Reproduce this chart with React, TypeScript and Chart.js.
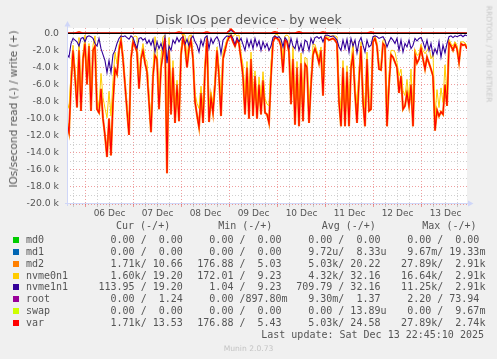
import React, { useEffect, useRef } from 'react';
import { Chart, registerables } from 'chart.js';

Chart.register(...registerables);

// ---------- time axis (hours since Fri 05 Dec 14:45, 1800 s per pixel) ----------
const HOURS_SHOWN = 200;
const FIRST_MIDNIGHT = 9.25; // 06 Dec 00:00
const dayLabels = ['06 Dec', '07 Dec', '08 Dec', '09 Dec', '10 Dec', '11 Dec', '12 Dec', '13 Dec'];

// ---------- value axis ----------
const Y_MIN = -20000;
const Y_MAX = 620;
const Y_MINOR_STEP = 1000;
const Y_LABEL_STEP = 2000;

// ---------- read rates, thousands of IOs/s, one value per hour ----------
const varRead = [
  10.5, 11.6, 6, 2, 5, 8.7, 2, 9.1, 3, 1.2,
  6, 1.5, 9.1, 2, 1.5, 8.9, 9.3, 6.5, 10, 12,
  14.5, 10, 14.3, 8, 4.2, 4.8, 2, 0.8, 3, 6,
  9, 11.9, 3, 1, 1.5, 2.2, 6.5, 3, 2, 3.5,
  4.5, 8, 11.6, 5, 2.6, 3, 8.9, 4, 2.4, 0.6,
  16.4, 2, 9.5, 4, 10.5, 6, 10.3, 2.5, 0.5, 1.5,
  4, 1.8, 0.8, 3, 8, 9.6, 11, 7, 10.5, 4.2,
  0.6, 10.4, 7.5, 9.3, 6, 2, 5, 9.7, 3, 2,
  1, 0.5, 0.3, 1, 1.5, 0.8, 1.2, 3, 5, 9.5,
  4, 10, 3, 9.7, 5, 10, 6, 9.5, 5.5, 9.3,
  9.5, 10.5, 5, 1, 0.5, 0.6, 0.8, 1.5, 4.6, 0.8,
  1.0, 2.2, 8.3, 3, 10.7, 4, 10.9, 3.5, 10.3, 3.6,
  4, 10.5, 6, 2.5, 1.8, 2.5, 3.5, 2, 7.3, 0.5,
  0.6, 0.8, 0.7, 0.6, 0.8, 1.2, 8, 10.9, 4, 10.9,
  4.5, 10.9, 4, 2.5, 7, 10.5, 5.5, 1.5, 8, 10.9,
  3, 9.1, 8.9, 1, 0.6, 1.5, 4.2, 4.3, 1.2, 1.5,
  10.9, 6, 2.5, 2.8, 3.4, 4, 7, 5, 8.9, 8.5,
  7, 8.5, 6, 10.9, 2.5, 3.5, 3, 1.8, 3, 4.2,
  2.8, 3.5, 4.2, 5, 11.4, 9, 9.7, 9.2, 9.5, 6,
  8.5, 1.1, 1.5, 2, 1.3, 1.8, 3.4, 1.2, 1.4, 1.3,
  1.8,
];
// md2 reads are identical to var in the legend (cur 1.71k, min 176.88, avg 5.03k, max 27.89k)
const md2Read = varRead;

const nvme0n1Read = [
  8.0, 8.8, 4.8, 1.4, 4.2, 7.7, 0.5, 8.5, 2.5, 0.2,
  5.6, 1.2, 8.7, 1.4, 0.3, 7.4, 8.7, 4.7, 7.5, 8.8,
  9.9, 6.8, 9.7, 5.5, 2.2, 3.6, 1.4, 0.5, 2.6, 5.7,
  8.5, 11.2, 2.7, 0.5, 0.3, 0.4, 5.9, 2.5, 1.2, 2.9,
  3.3, 7.2, 10.2, 4.3, 0.4, 2.0, 7.1, 2.8, 0.4, 0.2,
  12.9, 0.5, 7.5, 3.2, 9.3, 5.5, 9.3, 1.9, 0.1, 0.2,
  3.3, 0.3, 0.2, 2.7, 7.0, 8.2, 8.8, 6.2, 9.0, 3.7,
  0.3, 8.6, 6.9, 8.1, 5.3, 1.6, 4.1, 7.3, 2.2, 1.5,
  0.7, 0.1, 0.1, 0.4, 0.1, 0.3, 0.2, 2.4, 3.7, 7.5,
  3.3, 8.4, 2.2, 7.9, 4.4, 8.5, 5.1, 7.5, 4.5, 7.6,
  8.3, 8.5, 3.5, 0.5, 0.2, 0.1, 0.4, 0.8, 3.0, 0.3,
  0.2, 0.4, 7.7, 1.5, 8.9, 3.3, 8.9, 2.3, 8.1, 2.8,
  3.0, 8.5, 5.4, 1.3, 1.3, 2.1, 2.9, 1.6, 6.3, 0.2,
  0.4, 0.5, 0.3, 0.3, 0.3, 0.4, 6.4, 8.9, 3.2, 9.1,
  3.8, 8.7, 3.4, 1.0, 6.2, 8.2, 4.5, 1.0, 6.6, 8.7,
  2.2, 7.5, 7.5, 0.6, 0.3, 1.1, 3.6, 3.8, 0.8, 0.7,
  9.3, 5.0, 2.0, 2.0, 2.2, 3.4, 5.0, 4.2, 6.7, 7.3,
  5.4, 7.7, 4.2, 9.5, 1.9, 2.6, 2.4, 1.3, 2.0, 2.4,
  2.0, 1.5, 3.0, 2.4, 9.6, 6.6, 8.7, 6.4, 8.1, 3.7,
  7.3, 0.7, 1.2, 1.5, 1.0, 1.4, 3.1, 1.0, 1.0, 1.1,
  1.5,
];

const nvme1n1Read = [
  2.5, 2.8, 1.2, 0.6, 0.8, 1.0, 1.5, 0.6, 0.5, 1.0,
  0.4, 0.3, 0.4, 0.6, 1.2, 1.5, 0.6, 1.8, 2.5, 3.2,
  4.6, 3.2, 4.6, 2.5, 2.0, 1.2, 0.6, 0.3, 0.4, 0.3,
  0.5, 0.7, 0.3, 0.5, 1.2, 1.8, 0.6, 0.5, 0.8, 0.6,
  1.2, 0.8, 1.4, 0.7, 2.2, 1.0, 1.8, 1.2, 2.0, 0.4,
  3.5, 1.5, 2.0, 0.8, 1.2, 0.5, 1.0, 0.6, 0.4, 1.3,
  0.7, 1.5, 0.6, 0.3, 1.0, 1.4, 2.2, 0.8, 1.5, 0.5,
  0.3, 1.8, 0.6, 1.2, 0.7, 0.4, 0.9, 2.4, 0.8, 0.5,
  0.3, 0.4, 0.2, 0.6, 1.4, 0.5, 1.0, 0.6, 1.3, 2.0,
  0.7, 1.6, 0.8, 1.8, 0.6, 1.5, 0.9, 2.0, 1.0, 1.7,
  1.2, 2.0, 1.5, 0.5, 0.3, 0.5, 0.4, 0.7, 1.6, 0.5,
  0.8, 1.8, 0.6, 1.5, 1.8, 0.7, 2.0, 1.2, 2.2, 0.8,
  1.0, 2.0, 0.6, 1.2, 0.5, 0.4, 0.6, 0.4, 1.0, 0.3,
  0.2, 0.3, 0.4, 0.3, 0.5, 0.8, 1.6, 2.0, 0.8, 1.8,
  0.7, 2.2, 0.6, 1.5, 0.8, 2.3, 1.0, 0.5, 1.4, 2.2,
  0.8, 1.6, 1.4, 0.4, 0.3, 0.4, 0.6, 0.5, 0.4, 0.8,
  1.6, 1.0, 0.5, 0.8, 1.2, 0.6, 2.0, 0.8, 2.2, 1.2,
  1.6, 0.8, 1.8, 1.4, 0.6, 0.9, 0.6, 0.5, 1.0, 1.8,
  0.8, 2.0, 1.2, 2.6, 1.8, 2.4, 1.0, 2.8, 1.4, 2.3,
  1.2, 0.4, 0.3, 0.5, 0.3, 0.4, 0.3, 0.2, 0.4, 0.2,
  0.3,
];

// ---------- write rates, thousands of IOs/s, one value per 2 hours ----------
const varWrite = [
  0.02, 0.03, 0.05, 0.15, 0.03, 0.02, 0.02, 0.03, 0.02, 0.02,
  0.03, 0.02, 0.02, 0.03, 0.02, 0.02, 0.03, 0.02, 0.02, 0.03,
  0.02, 0.02, 0.03, 0.02, 0.02, 0.03, 0.02, 0.04, 0.15, 0.03,
  0.02, 0.02, 0.03, 0.02, 0.04, 0.15, 0.03, 0.02, 0.03, 0.02,
  0.06, 0.5, 0.05, 0.02, 0.03, 0.02, 0.02, 0.03, 0.02, 0.02,
  0.03, 0.04, 0.17, 0.03, 0.02, 0.02, 0.03, 0.04, 0.17, 0.03,
  0.02, 0.02, 0.03, 0.04, 0.15, 0.03, 0.02, 0.02, 0.03, 0.02,
  0.02, 0.03, 0.02, 0.02, 0.03, 0.04, 0.15, 0.03, 0.02, 0.02,
  0.03, 0.02, 0.02, 0.03, 0.02, 0.02, 0.03, 0.02, 0.02, 0.03,
  0.02, 0.02, 0.03, 0.02, 0.02, 0.03, 0.02, 0.02, 0.03, 0.02,
  0.02,
];
const md2Write = varWrite;
const nvmeWrite = [
  0.03, 0.03, 0.04, 0.05, 0.03, 0.03, 0.03, 0.04, 0.03, 0.03,
  0.04, 0.03, 0.03, 0.04, 0.03, 0.03, 0.04, 0.03, 0.03, 0.04,
  0.03, 0.03, 0.04, 0.03, 0.03, 0.04, 0.03, 0.04, 0.05, 0.04,
  0.03, 0.03, 0.04, 0.03, 0.04, 0.05, 0.04, 0.03, 0.04, 0.03,
  0.06, 0.35, 0.05, 0.03, 0.04, 0.03, 0.03, 0.04, 0.03, 0.03,
  0.04, 0.04, 0.06, 0.04, 0.03, 0.03, 0.04, 0.04, 0.06, 0.04,
  0.03, 0.03, 0.04, 0.04, 0.05, 0.04, 0.03, 0.03, 0.04, 0.03,
  0.03, 0.04, 0.03, 0.03, 0.04, 0.04, 0.05, 0.04, 0.03, 0.03,
  0.04, 0.03, 0.03, 0.04, 0.03, 0.03, 0.04, 0.03, 0.03, 0.04,
  0.03, 0.03, 0.04, 0.03, 0.03, 0.04, 0.03, 0.03, 0.04, 0.03,
  0.03,
];
// md0, md1, root, swap stay at (practically) zero over the whole week
const flatHours = [0, 200];
const flatValues = [0, 0];

// ---------- legend ----------
const legendNames = ['md0', 'md1', 'md2', 'nvme0n1', 'nvme1n1', 'root', 'swap', 'var'];
const legendColors = ['#00CC00', '#0066B3', '#FF8000', '#FFCC00', '#330099', '#990099', '#CCFF00', '#FF0000'];
const curText = ['  0.00 /  0.00 ', '  0.00 /  0.00 ', '  1.71k/ 10.66 ', '  1.60k/ 19.20 ', '113.95 / 19.20 ', '  0.00 /  1.24 ', '  0.00 /  0.00 ', '  1.71k/ 13.53 '];
const minText = ['  0.00 /  0.00 ', '  0.00 /  0.00 ', '176.88 /  5.03 ', '172.01 /  9.23 ', '  1.04 /  9.23 ', '  0.00 /897.80m', '  0.00 /  0.00 ', '176.88 /  5.43 '];
const avgText = ['  0.00 /  0.00 ', '  9.72u/  8.33u', '  5.03k/ 20.22 ', '  4.32k/ 32.16 ', '709.79 / 32.16 ', '  9.30m/  1.37 ', '  0.00 / 13.89u', '  5.03k/ 24.58 '];
const maxText = ['  0.00 /  0.00 ', '  9.67m/ 19.33m', ' 27.89k/  2.91k', ' 16.64k/  2.91k', ' 11.25k/  2.91k', '  2.20 / 73.94 ', '  0.00 /  9.67m', ' 27.89k/  2.74k'];
const headerText = ['Cur (-/+)', 'Min (-/+)', 'Avg (-/+)', 'Max (-/+)'];
const lastUpdate = 'Last update: Sat Dec 13 22:45:10 2025';

const GRID = 'rgba(150,150,150,0.45)';
const MGRID = 'rgba(225,80,80,0.55)';
const TEXT = '#555555';

const pts = (values: number[], step: number, sign: number) =>
  values.map((v, i) => ({ x: i * step, y: sign * v * 1000 }));
const flatPts = () => flatHours.map((h, i) => ({ x: h, y: flatValues[i] }));

const xTickHours: number[] = [];
for (let t = FIRST_MIDNIGHT - 6; t <= HOURS_SHOWN; t += 6) xTickHours.push(t);
const yTickValues: number[] = [];
for (let v = Y_MIN; v <= 0; v += Y_MINOR_STEP) yTickValues.push(v);

const isMultiple = (v: number, m: number) => Math.abs(v / m - Math.round(v / m)) < 1e-6;
const isMidnight = (t: number) => isMultiple(t - FIRST_MIDNIGHT, 24);
const dayLabelFor = (t: number) => {
  const d = (t - FIRST_MIDNIGHT - 12) / 24;
  const r = Math.round(d);
  if (Math.abs(d - r) < 1e-6 && r >= 0 && r < dayLabels.length) return dayLabels[r];
  return '';
};
const yLabelFor = (v: number) => {
  const n = Math.round(v);
  if (!isMultiple(n, Y_LABEL_STEP)) return '';
  if (n === 0) return '0.0';
  return `${(n / 1000).toFixed(1)} k`;
};

const framePlugin = {
  id: 'frame',
  beforeDraw(chart: any) {
    const { ctx, chartArea: a } = chart;
    ctx.save();
    ctx.fillStyle = '#F0F0F0';
    ctx.fillRect(0, 0, chart.width, chart.height);
    ctx.fillStyle = '#FFFFFF';
    ctx.fillRect(a.left, a.top, a.right - a.left, a.bottom - a.top);
    ctx.restore();
  },
  afterDatasetsDraw(chart: any) {
    const { ctx, chartArea: a, scales } = chart;
    const y0 = Math.round(scales.y.getPixelForValue(0)) + 0.5;
    ctx.save();
    ctx.strokeStyle = '#000000';
    ctx.lineWidth = 1;
    ctx.beginPath();
    ctx.moveTo(a.left, y0);
    ctx.lineTo(a.right, y0);
    ctx.stroke();
    ctx.strokeStyle = '#CFD6F8';
    ctx.fillStyle = '#CFD6F8';
    const yb = a.bottom - 0.5;
    ctx.beginPath();
    ctx.moveTo(a.left + 0.5, a.bottom + 2);
    ctx.lineTo(a.left + 0.5, a.top - 3);
    ctx.stroke();
    ctx.beginPath();
    ctx.moveTo(a.left - 2, yb);
    ctx.lineTo(a.right + 2, yb);
    ctx.stroke();
    ctx.beginPath();
    ctx.moveTo(a.left + 0.5, a.top - 7);
    ctx.lineTo(a.left - 2.5, a.top - 1.5);
    ctx.lineTo(a.left + 3.5, a.top - 1.5);
    ctx.closePath();
    ctx.fill();
    ctx.beginPath();
    ctx.moveTo(a.right + 6.5, yb);
    ctx.lineTo(a.right + 1, yb - 3);
    ctx.lineTo(a.right + 1, yb + 3);
    ctx.closePath();
    ctx.fill();
    ctx.restore();
  },
};

const abs = (extra: React.CSSProperties): React.CSSProperties => ({ position: 'absolute', whiteSpace: 'pre', margin: 0, ...extra });

const MONO = '"DejaVu Sans Mono", monospace';
const SANS = '"DejaVu Sans", sans-serif';
// top of a 12px line box so that a 10px DejaVu glyph sits on the given baseline
const monoTop = (baseline: number) => baseline - 9.46;

const rowBaselines = [243.5, 255.3, 267.2, 279.0, 290.9, 302.7, 314.6, 326.4];
const groupLeft = [98.5, 197.3, 296.2, 395.1];
const headerLeft = [116, 218.2, 321.7, 422.3];

export default function App() {
  const ref = useRef<HTMLCanvasElement | null>(null);

  useEffect(() => {
    if (!ref.current) return;
    const line = (label: string, color: string, data: any[], width: number, order: number) => ({
      label,
      data,
      borderColor: color,
      backgroundColor: color,
      borderWidth: width,
      pointRadius: 0,
      tension: 0,
      fill: false,
      order,
    });
    const datasets = [
      line('var read', '#FF0000', pts(varRead, 1, -1), 1.1, 0),
      line('var write', '#FF0000', pts(varWrite, 2, 1), 1.2, 0),
      line('swap read', '#CCFF00', flatPts(), 1, 1),
      line('root read', '#990099', flatPts(), 1, 2),
      line('nvme1n1 read', '#330099', pts(nvme1n1Read, 1, -1), 1.1, 3),
      line('nvme1n1 write', '#330099', pts(nvmeWrite, 2, 1), 1.1, 3),
      line('nvme0n1 read', '#FFCC00', pts(nvme0n1Read, 1, -1), 1, 4),
      line('nvme0n1 write', '#FFCC00', pts(nvmeWrite, 2, 1), 1, 4),
      line('md2 read', '#FF8000', pts(md2Read, 1, -1), 2.1, 5),
      line('md2 write', '#FF8000', pts(md2Write, 2, 1), 1.5, 5),
      line('md1 read', '#0066B3', flatPts(), 1, 6),
      line('md0 read', '#00CC00', flatPts(), 1, 7),
    ];
    const chart = new Chart(ref.current, {
      type: 'line',
      data: { datasets },
      plugins: [framePlugin],
      options: {
        responsive: false,
        animation: false,
        devicePixelRatio: 1,
        events: [],
        layout: { padding: { top: 28, right: 30, left: 0, bottom: 0 } },
        plugins: { legend: { display: false }, tooltip: { enabled: false }, title: { display: false } },
        scales: {
          x: {
            type: 'linear',
            min: 0,
            max: HOURS_SHOWN,
            bounds: 'data',
            afterFit: (s: any) => { s.height = 155; },
            afterBuildTicks: (s: any) => { s.ticks = xTickHours.map((v) => ({ value: v })); },
            ticks: {
              autoSkip: false,
              maxRotation: 0,
              minRotation: 0,
              padding: 1,
              color: TEXT,
              font: { size: 9, family: SANS },
              callback: (v: any) => dayLabelFor(Number(v)),
            },
            grid: {
              color: (c: any) => (c.tick && isMidnight(c.tick.value) ? MGRID : GRID),
              lineWidth: 1,
              tickLength: 3,
              drawTicks: true,
              borderDash: [1, 2],
            } as any,
            border: { display: false, dash: [1, 2] },
          },
          y: {
            type: 'linear',
            min: Y_MIN,
            max: Y_MAX,
            bounds: 'data',
            afterFit: (s: any) => { s.width = 67; },
            afterBuildTicks: (s: any) => { s.ticks = yTickValues.map((v) => ({ value: v })); },
            ticks: {
              autoSkip: false,
              padding: 8,
              color: TEXT,
              font: { size: 9.3, family: SANS },
              callback: (v: any) => yLabelFor(Number(v)),
            },
            grid: {
              color: (c: any) => {
                const v = c.tick ? Math.round(c.tick.value) : 1;
                if (v === 0) return 'rgba(0,0,0,0)';
                return isMultiple(v, Y_LABEL_STEP) ? MGRID : GRID;
              },
              lineWidth: 1,
              drawTicks: false,
              borderDash: [1, 2],
            } as any,
            border: { display: false, dash: [1, 2] },
          },
        },
      } as any,
    });
    return () => chart.destroy();
  }, []);

  return (
    <div style={{ position: 'absolute', left: 0, top: 0, width: 497, height: 359, background: '#F0F0F0', overflow: 'hidden' }}>
      <canvas ref={ref} width={497} height={359} style={{ position: 'absolute', left: 0, top: 0, width: 497, height: 359 }} />
      <div style={abs({ left: 0, top: 11.6, width: 497, textAlign: 'center', fontFamily: SANS, fontSize: 12.6, lineHeight: '16px', color: '#5a5a5a' })}>
        Disk IOs per device - by week
      </div>
      <div style={abs({ left: 12.5, top: 108.5, transform: 'translate(-50%, -50%) rotate(-90deg)', fontFamily: SANS, fontSize: 10.5, lineHeight: '12px', color: TEXT })}>
        IOs/second read (-) / write (+)
      </div>
      <div style={abs({ left: 488.5, top: 53.5, transform: 'translate(-50%, -50%) rotate(90deg)', fontFamily: SANS, fontSize: 7.5, lineHeight: '9px', color: '#C8C8C8' })}>
        RRDTOOL / TOBI OETIKER
      </div>
      {headerText.map((h, k) => (
        <div key={'h' + k} style={abs({ left: headerLeft[k], top: monoTop(229.5), fontFamily: MONO, fontSize: 10, lineHeight: '12px', color: TEXT })}>{h}</div>
      ))}
      {legendNames.map((name, r) => (
        <React.Fragment key={name}>
          <div style={abs({ left: 13.3, top: rowBaselines[r] - 6.5, width: 6, height: 6, background: legendColors[r] })} />
          <div style={abs({ left: 26, top: monoTop(rowBaselines[r]), fontFamily: MONO, fontSize: 10, lineHeight: '12px', color: TEXT })}>{name}</div>
          {[curText[r], minText[r], avgText[r], maxText[r]].map((t, k) => (
            <div key={k} style={abs({ left: groupLeft[k], top: monoTop(rowBaselines[r]), fontFamily: MONO, fontSize: 10, lineHeight: '12px', color: TEXT })}>{t}</div>
          ))}
        </React.Fragment>
      ))}
      <div style={abs({ right: 497 - 484, top: monoTop(338.3), fontFamily: MONO, fontSize: 10, lineHeight: '12px', color: TEXT })}>{lastUpdate}</div>
      <div style={abs({ left: 0, width: 497, textAlign: 'center', top: 351.7 - 8.1, fontFamily: SANS, fontSize: 7.6, lineHeight: '10px', color: '#C4C4C4' })}>Munin 2.0.73</div>
    </div>
  );
}
